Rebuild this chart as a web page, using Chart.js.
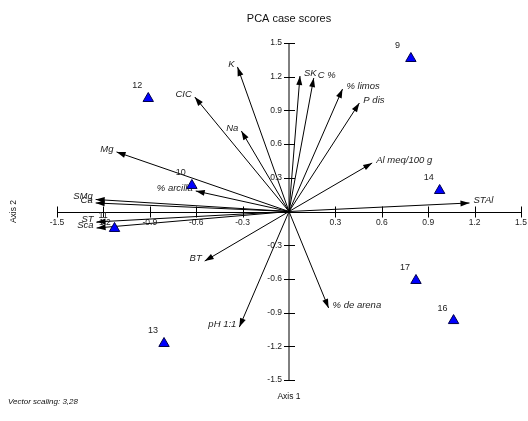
<!DOCTYPE html>
<html>
<head>
<meta charset="utf-8">
<script src="https://cdn.jsdelivr.net/npm/chart.js@4"></script>
<style>
  html, body { margin: 0; padding: 0; background: #fff; }
  canvas { display: block; }
</style>
</head>
<body>
<canvas id="pca" width="528" height="421"></canvas>
<script>
// Case scores on the first two PCA axes
const caseIds   = ['9', '12', '10', '11', '14', '17', '16', '13'];
const caseAxis1 = [0.788, -0.910, -0.628, -1.128, 0.974, 0.821, 1.064, -0.808];
const caseAxis2 = [1.362, 1.006, 0.232, -0.151, 0.187, -0.614, -0.971, -1.175];

// Variable vectors (already multiplied by the vector scaling factor)
const varNames = ['K', 'SK', 'C %', '% limos', 'P dis', 'CIC', 'Na', 'Mg', '% arcilla',
                  'Al meq/100 g', 'STAl', 'SMg', 'Ca', 'ST', 'Sca', 'BT', 'pH 1:1', '% de arena'];
const varAxis1 = [-0.333, 0.071, 0.160, 0.346, 0.455, -0.609, -0.308, -1.115, -0.603,
                  0.538, 1.167, -1.250, -1.250, -1.244, -1.244, -0.545, -0.321, 0.256];
const varAxis2 = [1.287, 1.206, 1.188, 1.090, 0.966, 1.019, 0.717, 0.530, 0.183,
                  0.432, 0.076, 0.107, 0.076, -0.093, -0.147, -0.441, -1.029, -0.859];

// Axis ticks (the origin is left unlabelled)
const tickValues = [-1.5, -1.2, -0.9, -0.6, -0.3, 0, 0.3, 0.6, 0.9, 1.2, 1.5];
const tickLabels = ['-1.5', '-1.2', '-0.9', '-0.6', '-0.3', '', '0.3', '0.6', '0.9', '1.2', '1.5'];

const FONT = '"Liberation Sans", Arial, sans-serif';

// Datasets: the case scores first (drawn on top), then one two-point line per vector
const datasets = [{
  type: 'scatter',
  label: 'cases',
  data: caseIds.map((id, i) => ({ x: caseAxis1[i], y: caseAxis2[i] })),
  pointStyle: 'triangle',
  pointRadius: 6,
  pointHoverRadius: 6,
  backgroundColor: '#0000ff',
  borderColor: '#00004a',
  borderWidth: 1,
  caseLabels: caseIds
}];
varNames.forEach((name, i) => {
  datasets.push({
    type: 'line',
    label: name,
    data: [{ x: 0, y: 0 }, { x: varAxis1[i], y: varAxis2[i] }],
    borderColor: '#000',
    borderWidth: 1,
    pointRadius: 0,
    pointHoverRadius: 0,
    fill: false,
    tension: 0,
    arrowLabel: name
  });
});

// Axis lines through the origin with tick marks crossing them
const crossAxes = {
  id: 'crossAxes',
  beforeDatasetsDraw(chart) {
    const { ctx, scales: { x, y } } = chart;
    const x0 = x.getPixelForValue(0);
    const y0 = Math.round(y.getPixelForValue(0)) + 0.5;
    ctx.save();
    ctx.strokeStyle = '#000';
    ctx.lineWidth = 1;
    ctx.beginPath();
    ctx.moveTo(x.getPixelForValue(-1.5), y0);
    ctx.lineTo(x.getPixelForValue(1.5), y0);
    x.ticks.forEach(t => {
      if (t.value === 0) return;
      const px = Math.round(x.getPixelForValue(t.value)) + 0.5;
      ctx.moveTo(px, y0 - 6);
      ctx.lineTo(px, y0 + 5);
    });
    y.ticks.forEach(t => {
      if (t.value === 0) return;
      const py = Math.round(y.getPixelForValue(t.value)) + 0.5;
      ctx.moveTo(x0 - 5, py);
      ctx.lineTo(x0 + 6, py);
    });
    ctx.stroke();
    ctx.beginPath();
    ctx.moveTo(x0, y.getPixelForValue(1.5));
    ctx.lineTo(x0, y.getPixelForValue(-1.5));
    ctx.stroke();
    ctx.restore();
  },
  afterDatasetDraw(chart, args) {
    const ds = chart.data.datasets[args.index];
    const pts = args.meta.data;
    const ctx = chart.ctx;
    ctx.save();
    if (ds.arrowLabel) {
      const o = pts[0], t = pts[1];
      const a = Math.atan2(t.y - o.y, t.x - o.x);
      const L = 9, W = 3;
      const bx = t.x - L * Math.cos(a), by = t.y - L * Math.sin(a);
      ctx.fillStyle = '#000';
      ctx.beginPath();
      ctx.moveTo(t.x, t.y);
      ctx.lineTo(bx - W * Math.sin(a), by + W * Math.cos(a));
      ctx.lineTo(bx + W * Math.sin(a), by - W * Math.cos(a));
      ctx.closePath();
      ctx.fill();
      ctx.font = 'italic 9.5px ' + FONT;
      ctx.fillStyle = '#222';
      ctx.textBaseline = 'middle';
      if (t.x < o.x) {
        ctx.textAlign = 'right';
        ctx.fillText(ds.arrowLabel, t.x - 3, t.y - 3);
      } else {
        ctx.textAlign = 'left';
        ctx.fillText(ds.arrowLabel, t.x + 4, t.y - 3);
      }
    } else if (ds.caseLabels) {
      ctx.font = '9px ' + FONT;
      ctx.fillStyle = '#222';
      ctx.textAlign = 'left';
      ctx.textBaseline = 'middle';
      pts.forEach((p, i) => ctx.fillText(ds.caseLabels[i], p.x - 16, p.y - 12.5));
    }
    ctx.restore();
  },
  afterDraw(chart) {
    const { ctx, scales: { x, y } } = chart;
    const cx = x.getPixelForValue(0);
    ctx.save();
    ctx.fillStyle = '#111';
    ctx.textAlign = 'center';
    ctx.textBaseline = 'middle';
    ctx.font = '11px ' + FONT;
    ctx.fillText('PCA case scores', cx, 19);
    ctx.font = '8.5px ' + FONT;
    ctx.fillText('Axis 1', cx, 397);
    ctx.save();
    ctx.translate(14, y.getPixelForValue(0));
    ctx.rotate(-Math.PI / 2);
    ctx.fillText('Axis 2', 0, 0);
    ctx.restore();
    ctx.font = 'italic 8px ' + FONT;
    ctx.textAlign = 'left';
    ctx.fillText('Vector scaling: 3,28', 8, 402);
    ctx.restore();
  }
};

function fixedTicks(scale) {
  scale.ticks = tickValues.map(v => ({ value: v }));
}
function noEdgePadding(scale) {
  scale.paddingLeft = 0; scale.paddingRight = 0;
  scale.paddingTop = 0; scale.paddingBottom = 0;
}

new Chart(document.getElementById('pca'), {
  type: 'scatter',
  data: { datasets },
  options: {
    responsive: false,
    devicePixelRatio: 1,
    animation: false,
    events: [],
    layout: { padding: { left: 57, right: 3, top: 43, bottom: 41 } },
    plugins: { legend: { display: false }, tooltip: { enabled: false }, title: { display: false } },
    scales: {
      x: {
        type: 'linear',
        min: -1.5, max: 1.5,
        position: 'center',
        afterBuildTicks: fixedTicks,
        afterFit: noEdgePadding,
        grid: { display: false, drawTicks: false, tickLength: 0 },
        border: { display: false },
        ticks: {
          autoSkip: false,
          maxRotation: 0,
          padding: 6,
          color: '#222',
          font: { family: FONT, size: 8.5 },
          callback: (v, i) => tickLabels[i]
        }
      },
      y: {
        type: 'linear',
        min: -1.5, max: 1.5,
        position: 'center',
        afterBuildTicks: fixedTicks,
        afterFit: noEdgePadding,
        grid: { display: false, drawTicks: false, tickLength: 0 },
        border: { display: false },
        ticks: {
          autoSkip: false,
          padding: 7,
          color: '#222',
          font: { family: FONT, size: 8.5 },
          callback: (v, i) => tickLabels[i]
        }
      }
    }
  },
  plugins: [crossAxes]
});
</script>
</body>
</html>
